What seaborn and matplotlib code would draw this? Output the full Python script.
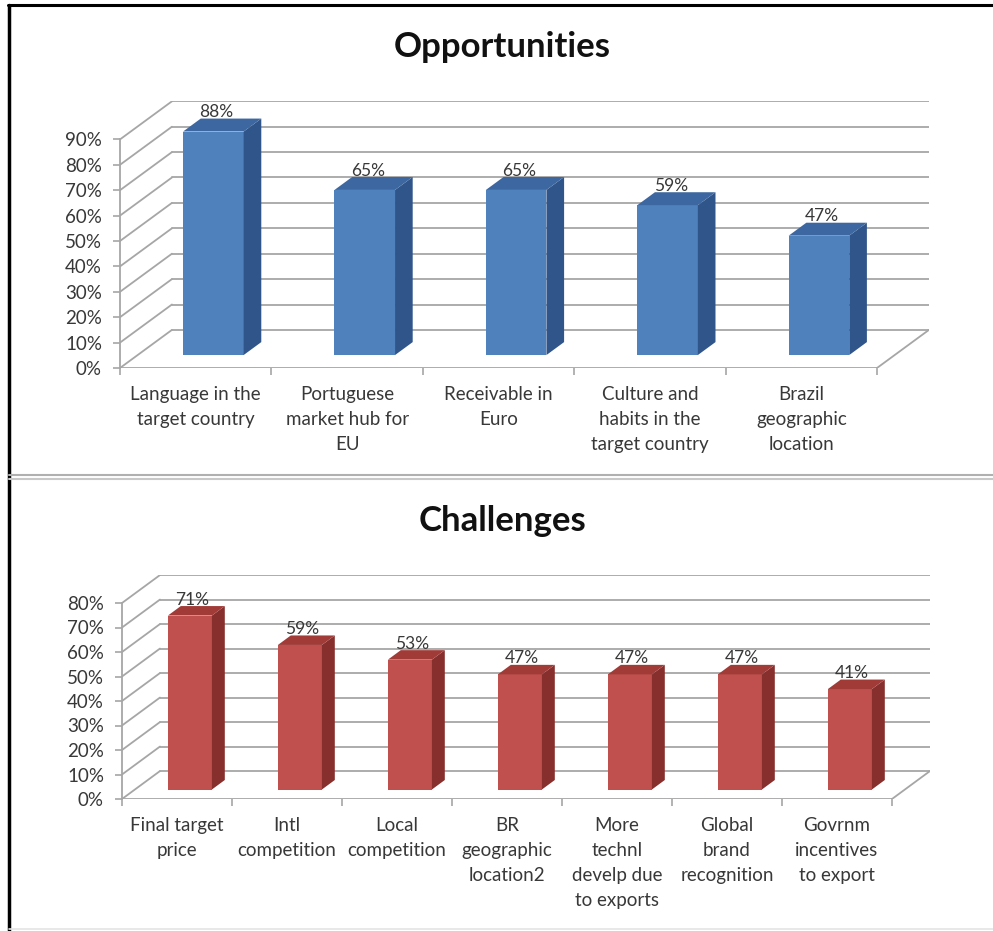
import matplotlib
matplotlib.use("Agg")
import matplotlib.pyplot as plt
from matplotlib.patches import Polygon
from matplotlib.lines import Line2D
import seaborn as sns

# ---- data ----
opp_labels = ["Language in the\ntarget country", "Portuguese\nmarket hub for\nEU",
              "Receivable in\nEuro", "Culture and\nhabits in the\ntarget country",
              "Brazil\ngeographic\nlocation"]
opp_values = [88, 65, 65, 59, 47]
opp_ticks = [0, 10, 20, 30, 40, 50, 60, 70, 80, 90]

chl_labels = ["Final target\nprice", "Intl\ncompetition", "Local\ncompetition",
              "BR\ngeographic\nlocation2", "More\ntechnl\ndevelp due\nto exports",
              "Global\nbrand\nrecognition", "Govrnm\nincentives\nto export"]
chl_values = [71, 59, 53, 47, 47, 47, 41]
chl_ticks = [0, 10, 20, 30, 40, 50, 60, 70, 80]

sns.set_theme(style="white")
plt.rcParams["font.family"] = ["Lato", "DejaVu Sans"]

W, H = 993, 931
fig = plt.figure(figsize=(W / 100, H / 100), dpi=100)

GRID = "#a6a6a6"
TXT = "#383838"


def panel(rect, labels, values, ticks, ymax, ox, oy, front, side, top):
    ax = fig.add_axes(rect)
    n = len(labels)
    sns.barplot(x=list(range(n)), y=values, ax=ax, width=0.4, color=front,
                saturation=1, zorder=3, linewidth=0)
    ax.set_xlim(-0.5, n - 0.5 + ox)
    ax.set_ylim(0, ymax + oy)
    ax.set_facecolor("none")

    # back wall gridlines and left side-wall diagonals
    for t in ticks:
        ax.add_line(Line2D([-0.5 + ox, n - 0.5 + ox], [t + oy, t + oy],
                           color=GRID, lw=1.3, zorder=1))
        ax.add_line(Line2D([-0.5, -0.5 + ox], [t, t + oy],
                           color=GRID, lw=1.3, zorder=1))
    # floor front and right edges
    ax.add_line(Line2D([-0.5, n - 0.5], [0, 0], color=GRID, lw=1.3, zorder=1))
    ax.add_line(Line2D([n - 0.5, n - 0.5 + ox], [0, oy], color=GRID, lw=1.3, zorder=1))

    # extrude every bar into a box sitting in the middle of the floor depth
    d0, dd = 0.34, 0.34
    for patch, v in zip(ax.patches, values):
        x, w = patch.get_x(), patch.get_width()
        x0, y0 = x + d0 * ox, d0 * oy
        patch.set_x(x0)
        patch.set_y(y0)
        patch.set_height(v)
        sx, sy = dd * ox, dd * oy
        ax.add_patch(Polygon([(x0 + w, y0), (x0 + w + sx, y0 + sy),
                              (x0 + w + sx, y0 + v + sy), (x0 + w, y0 + v)],
                             closed=True, facecolor=side, edgecolor="none", zorder=3))
        ax.add_patch(Polygon([(x0, y0 + v), (x0 + w, y0 + v),
                              (x0 + w + sx, y0 + v + sy), (x0 + sx, y0 + v + sy)],
                             closed=True, facecolor=top, edgecolor="none", zorder=3))
        ax.text(x0 + w / 2 + 0.02, y0 + v + sy - 0.6, f"{v}%", ha="center", va="bottom",
                fontsize=12.5, color=TXT, zorder=4)

    for s in ["top", "right", "bottom"]:
        ax.spines[s].set_visible(False)
    ax.spines["left"].set_bounds(0, ymax)
    ax.spines["left"].set_color(GRID)
    ax.spines["left"].set_linewidth(1.3)

    ax.set_yticks(ticks)
    ax.set_yticklabels([f"{t}%" for t in ticks], fontsize=13.5, color=TXT)
    ax.tick_params(axis="y", which="major", left=True, length=5, width=1.2,
                   color=GRID, pad=8)

    ax.set_xticks(range(n))
    ax.set_xticklabels(labels, fontsize=13.5, color=TXT, linespacing=1.57, va="top")
    ax.set_xticks([i - 0.5 for i in range(n + 1)], minor=True)
    ax.tick_params(axis="x", which="major", bottom=True, length=0, pad=13)
    ax.tick_params(axis="x", which="minor", bottom=True, length=5, width=1.2,
                   color=GRID)
    ax.set_xlabel("")
    ax.set_ylabel("")
    ax.grid(False)
    return ax


# Opportunities panel (front plane origin at px (120, 368))
ox1, oy1 = 0.343, 15.0
ppx1 = 151.4
ppy1 = 2.54
left1, base1 = 120, 368
w1 = (5 + ox1) * ppx1
h1 = (90 + oy1) * ppy1
panel([left1 / W, (H - base1) / H, w1 / W, h1 / H], opp_labels, opp_values,
      opp_ticks, 90, ox1, oy1, "#4f81bd", "#30558a", "#3d67a0")

# Challenges panel (front plane origin at px (122, 799))
ox2, oy2 = 0.345, 11.4
ppx2 = 110.0
ppy2 = 2.45
left2, base2 = 122, 799
w2 = (7 + ox2) * ppx2
h2 = (80 + oy2) * ppy2
panel([left2 / W, (H - base2) / H, w2 / W, h2 / H], chl_labels, chl_values,
      chl_ticks, 80, ox2, oy2, "#c0504d", "#872f2d", "#a03b38")

fig.text(502 / W, 1 - 47 / H, "Opportunities", ha="center", va="center",
         fontsize=25, fontweight="bold", color="#111111")
fig.text(503 / W, 1 - 521 / H, "Challenges", ha="center", va="center",
         fontsize=25, fontweight="bold", color="#111111")

# frame: black top and left edges, grey separator, faint bottom edge
fig.add_artist(Line2D([8 / W, 1], [1 - 5 / H, 1 - 5 / H], color="black", lw=2.2,
                      transform=fig.transFigure))
fig.add_artist(Line2D([9 / W, 9 / W], [0, 1 - 5 / H], color="black", lw=2.5,
                      transform=fig.transFigure))
fig.add_artist(Line2D([9 / W, 1], [1 - 475 / H, 1 - 475 / H], color="#b0b0b0", lw=1.5,
                      transform=fig.transFigure))
fig.add_artist(Line2D([9 / W, 1], [1 - 478.5 / H, 1 - 478.5 / H], color="#c8c8c8", lw=1.5,
                      transform=fig.transFigure))
fig.add_artist(Line2D([9 / W, 1], [1 - 929 / H, 1 - 929 / H], color="#e4e4e4", lw=1.2,
                      transform=fig.transFigure))

fig.savefig("out.png", dpi=100)
